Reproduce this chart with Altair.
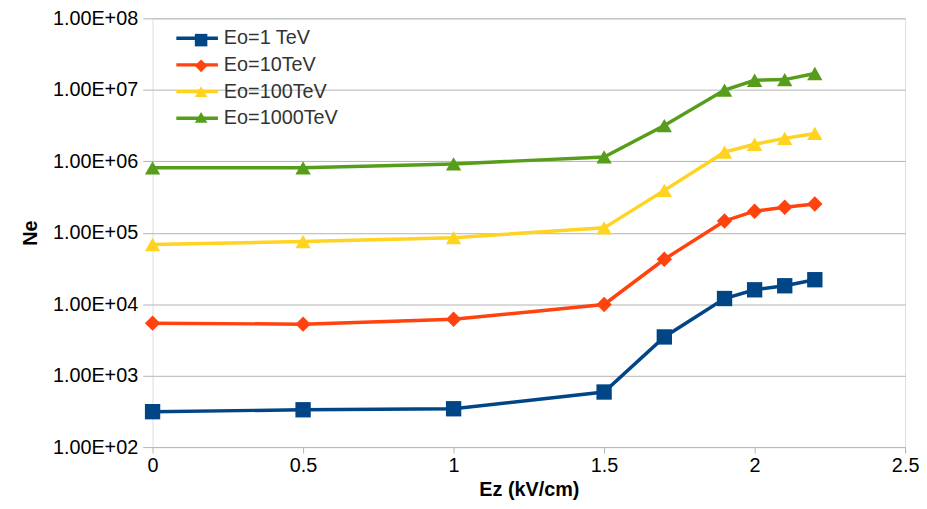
import altair as alt
import pandas as pd

# ---- data ----
ez = [0, 0.5, 1, 1.5, 1.7, 1.9, 2.0, 2.1, 2.2]
series_names = ["Eo=1 TeV", "Eo=10TeV", "Eo=100TeV", "Eo=1000TeV"]
ne_1tev = [313, 333, 344, 590, 3480, 12000, 15900, 18100, 22000]
ne_10tev = [5420, 5250, 6150, 9900, 42500, 146000, 200000, 227000, 252000]
ne_100tev = [68400, 75200, 85300, 117000, 391000, 1340000, 1730000, 2090000, 2450000]
ne_1000tev = [809000, 809000, 918000, 1150000, 3160000, 9900000, 13600000, 13900000, 16900000]
y_ticks = [1e2, 1e3, 1e4, 1e5, 1e6, 1e7, 1e8]
x_ticks = [0, 0.5, 1, 1.5, 2, 2.5]
colors = ["#004586", "#ff420e", "#ffd320", "#579d1c"]
shapes = ["square", "diamond", "triangle-up", "triangle-up"]

rows = []
for name, vals in zip(series_names, [ne_1tev, ne_10tev, ne_100tev, ne_1000tev]):
    for x, v in zip(ez, vals):
        rows.append({"Ez": x, "Ne": v, "series": name})
df = pd.DataFrame(rows)

FONT = "Liberation Sans"
GRID = "#b3b3b3"

x_enc = alt.X(
    "Ez:Q",
    scale=alt.Scale(domain=[0, 2.5], nice=False, zero=False),
    axis=alt.Axis(values=x_ticks, format="~g", title="Ez (kV/cm)", grid=False, domain=False,
                  tickSize=6, tickColor=GRID, labelPadding=3, titlePadding=4,
                  labelFontSize=20, titleFontSize=20, labelFlush=False),
)
y_enc = alt.Y(
    "Ne:Q",
    scale=alt.Scale(type="log", domain=[1e2, 1e8], nice=False),
    axis=alt.Axis(values=y_ticks, title="Ne", grid=True, gridColor=GRID, domain=False,
                  tickSize=10, tickColor=GRID, labelPadding=5, titlePadding=12,
                  labelFontSize=20, titleFontSize=20,
                  labelExpr="replace(upper(format(datum.value, '.2e')), '+', '+0')"),
)

color_scale = alt.Scale(domain=series_names, range=colors)

base = alt.Chart(df).encode(x=x_enc, y=y_enc)

line_legend = alt.Legend(
    title=None, orient="none", legendX=33, legendY=8, padding=0,
    symbolType="M-2.1,0H2.1", symbolSize=400, symbolStrokeWidth=3.5,
    labelFontSize=20, labelFont=FONT, labelColor="#333333", labelOffset=15,
    rowPadding=5,
)
point_legend = alt.Legend(
    title=None, orient="none", legendX=39, legendY=12, padding=0,
    symbolSize=160, symbolStrokeWidth=0,
    labelFontSize=20, labelFont=FONT, labelExpr="''", labelOffset=0,
    rowPadding=6,
)

lines = base.mark_line(strokeWidth=3.5).encode(
    color=alt.Color("series:N", scale=color_scale, legend=line_legend),
)
points = base.mark_point(filled=True, opacity=1, size=240, strokeWidth=0).encode(
    color=alt.Color("series:N", scale=color_scale, legend=point_legend),
    shape=alt.Shape("series:N", scale=alt.Scale(domain=series_names, range=shapes), legend=point_legend),
)

chart = (
    alt.layer(lines, points)
    .resolve_scale(color="independent", shape="independent")
    .resolve_legend(color="independent", shape="independent")
    .properties(width=760, height=433, padding={"left": 12, "top": -2, "right": 0, "bottom": 0})
    .configure_view(stroke=GRID, strokeWidth=1)
    .configure_axis(labelFont=FONT, titleFont=FONT, labelColor="#333333", titleColor="#111111",
                    titleFontWeight="bold")
    .configure(background="white")
)

chart.save("out.html", embed_options={"renderer": "svg", "actions": False})
